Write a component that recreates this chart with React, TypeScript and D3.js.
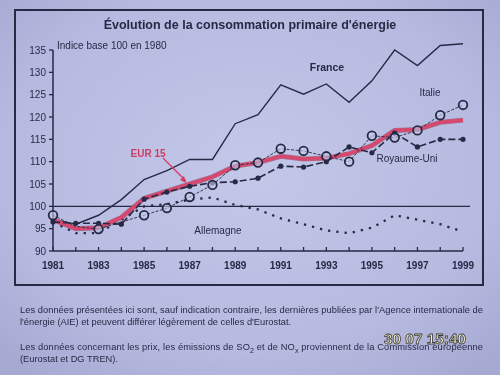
import React from "react";
import * as d3 from "d3";

const years = d3.range(1981, 2000);
const france = [97, 96, 98, 101.5, 106, 108, 110.5, 110.5, 118.5, 120.5, 127.2, 125.1, 127.4, 123.3, 128.1, 135, 131.5, 136, 136.4];
const eur15 = [97, 95, 95.2, 97.5, 101.8, 103.4, 105, 106.6, 109, 109.8, 111.2, 110.6, 110.8, 111.8, 113.6, 117, 117.2, 118.8, 119.3];
const italie = [98, 95.5, 94.9, 96.5, 98, 99.6, 102.1, 104.8, 109.2, 109.8, 112.9, 112.4, 111.2, 110, 115.8, 115.4, 117, 120.4, 122.7];
const royaumeUni = [96.5, 96.2, 96.2, 96, 101.6, 103.2, 104.5, 105.3, 105.5, 106.3, 109, 108.8, 110, 113.3, 112, 116.4, 113.3, 115, 115];
const allemagne = [96.5, 94, 94, 97, 100, 100.5, 101.5, 102, 100.3, 99.3, 97.3, 96, 94.6, 94, 95.2, 98, 97, 96, 94.3];
const yTicks = [90, 95, 100, 105, 110, 115, 120, 125, 130, 135];
const xLabels = [1981, 1983, 1985, 1987, 1989, 1991, 1993, 1995, 1997, 1999];

const ink = "#262a45";
const font = "'Liberation Sans', Arial, sans-serif";

export default function App() {
  const x = d3.scaleLinear().domain([1981, 1999]).range([53, 463]);
  const y = d3.scaleLinear().domain([90, 135]).range([251, 50]);
  const line = (vals: number[]) =>
    d3.line<number>().x((_, i) => x(years[i])).y((v) => y(v))(vals) || "";

  return (
    <svg width={500} height={375} style={{ position: "fixed", left: 0, top: 0 }} fontFamily={font}>
      <defs>
        <radialGradient id="bg" cx="50%" cy="45%" r="70%">
          <stop offset="0%" stopColor="#c3c7e8" />
          <stop offset="70%" stopColor="#b6bae0" />
          <stop offset="100%" stopColor="#a6aad3" />
        </radialGradient>
      </defs>
      <rect x={0} y={0} width={500} height={375} fill="url(#bg)" />
      <rect x={15} y={10} width={468} height={275} fill="none" stroke={ink} strokeWidth={2} />

      <text x={250} y={29} textAnchor="middle" fontSize={12.5} fontWeight="bold" fill={ink}>
        Évolution de la consommation primaire d'énergie
      </text>
      <text x={57} y={49} fontSize={10} fill={ink}>Indice base 100 en 1980</text>

      {/* y axis */}
      <line x1={x(1981)} x2={x(1981)} y1={y(135)} y2={y(90)} stroke={ink} strokeWidth={1.5} />
      {yTicks.map((t) => (
        <g key={t}>
          <line x1={x(1981) - 4} x2={x(1981)} y1={y(t)} y2={y(t)} stroke={ink} strokeWidth={1.3} />
          <text x={x(1981) - 7} y={y(t) + 3.5} textAnchor="end" fontSize={10} fill={ink}>{t}</text>
        </g>
      ))}
      {/* x axis */}
      <line x1={x(1981)} x2={x(1999)} y1={y(90)} y2={y(90)} stroke={ink} strokeWidth={1.5} />
      {years.map((yr) => (
        <line key={yr} x1={x(yr)} x2={x(yr)} y1={y(90)} y2={y(90) - 4} stroke={ink} strokeWidth={1.3} />
      ))}
      {xLabels.map((yr) => (
        <text key={yr} x={x(yr)} y={y(90) + 18} textAnchor="middle" fontSize={10} fontWeight="bold" fill={ink}>{yr}</text>
      ))}
      {/* base 100 line */}
      <line x1={x(1981)} x2={470} y1={y(100)} y2={y(100)} stroke={ink} strokeWidth={1.3} />

      {/* series */}
      <path d={line(france)} fill="none" stroke={ink} strokeWidth={1.4} />
      <path d={line(allemagne)} fill="none" stroke={ink} strokeWidth={2.3} strokeDasharray="2.3 6" />
      <path d={line(eur15)} fill="none" stroke="#8a2a45" strokeWidth={5} strokeLinejoin="round" opacity={0.5} />
      <path d={line(eur15)} fill="none" stroke="#d7486f" strokeWidth={3.6} strokeLinejoin="round" />
      <path d={line(royaumeUni)} fill="none" stroke={ink} strokeWidth={1.6} strokeDasharray="7 3" />
      {royaumeUni.map((v, i) => (
        <circle key={i} cx={x(years[i])} cy={y(v)} r={2.6} fill={ink} />
      ))}
      <path d={line(italie)} fill="none" stroke={ink} strokeWidth={0.9} strokeDasharray="3 1.5" />
      {italie.map((v, i) =>
        i === 1 || i === 3 ? null : (
          <circle key={i} cx={x(years[i])} cy={y(v)} r={4.3} fill="#c6cae9" fillOpacity={0.6} stroke={ink} strokeWidth={1.8} />
        )
      )}

      {/* labels */}
      <text x={327} y={71} textAnchor="middle" fontSize={10.5} fontWeight="bold" fill={ink}>France</text>
      <text x={430} y={96} textAnchor="middle" fontSize={10} fill={ink}>Italie</text>
      <text x={407} y={162} textAnchor="middle" fontSize={10} fill={ink}>Royaume-Uni</text>
      <text x={218} y={234} textAnchor="middle" fontSize={10} fill={ink}>Allemagne</text>
      <text x={148} y={157} textAnchor="middle" fontSize={10} fontWeight="bold" fill="#d43a64">EUR 15</text>
      <line x1={163} y1={158} x2={186} y2={181} stroke="#d43a64" strokeWidth={1.2} />
      <path d="M186,183 L180,180 L184,176 Z" fill="#d43a64" />

      {/* footnotes */}
      <text x={20} y={313} fontSize={9.3} fill={ink} textLength={463} lengthAdjust="spacing">
        Les données présentées ici sont, sauf indication contraire, les dernières publiées par l'Agence internationale de
      </text>
      <text x={20} y={325} fontSize={9.3} fill={ink}>
        l'énergie (AIE)  et peuvent différer légèrement de celles d'Eurostat.
      </text>
      <text x={20} y={350} fontSize={9.3} fill={ink} textLength={463} lengthAdjust="spacing">
        Les données concernant les prix, les émissions de SO<tspan dy={3} fontSize={7}>2</tspan><tspan dy={-3}> et de NO</tspan><tspan dy={3} fontSize={7}>x</tspan><tspan dy={-3}> proviennent de la Commission européenne</tspan>
      </text>
      <text x={20} y={362} fontSize={9.3} fill={ink}>(Eurostat et DG TREN).</text>

      <text x={384} y={344} fontSize={15} fontWeight="bold" fill="#f3f0c8" stroke="#3a3a3a" strokeWidth={0.8} textLength={82} lengthAdjust="spacingAndGlyphs">
        30 07 15:40
      </text>
    </svg>
  );
}
